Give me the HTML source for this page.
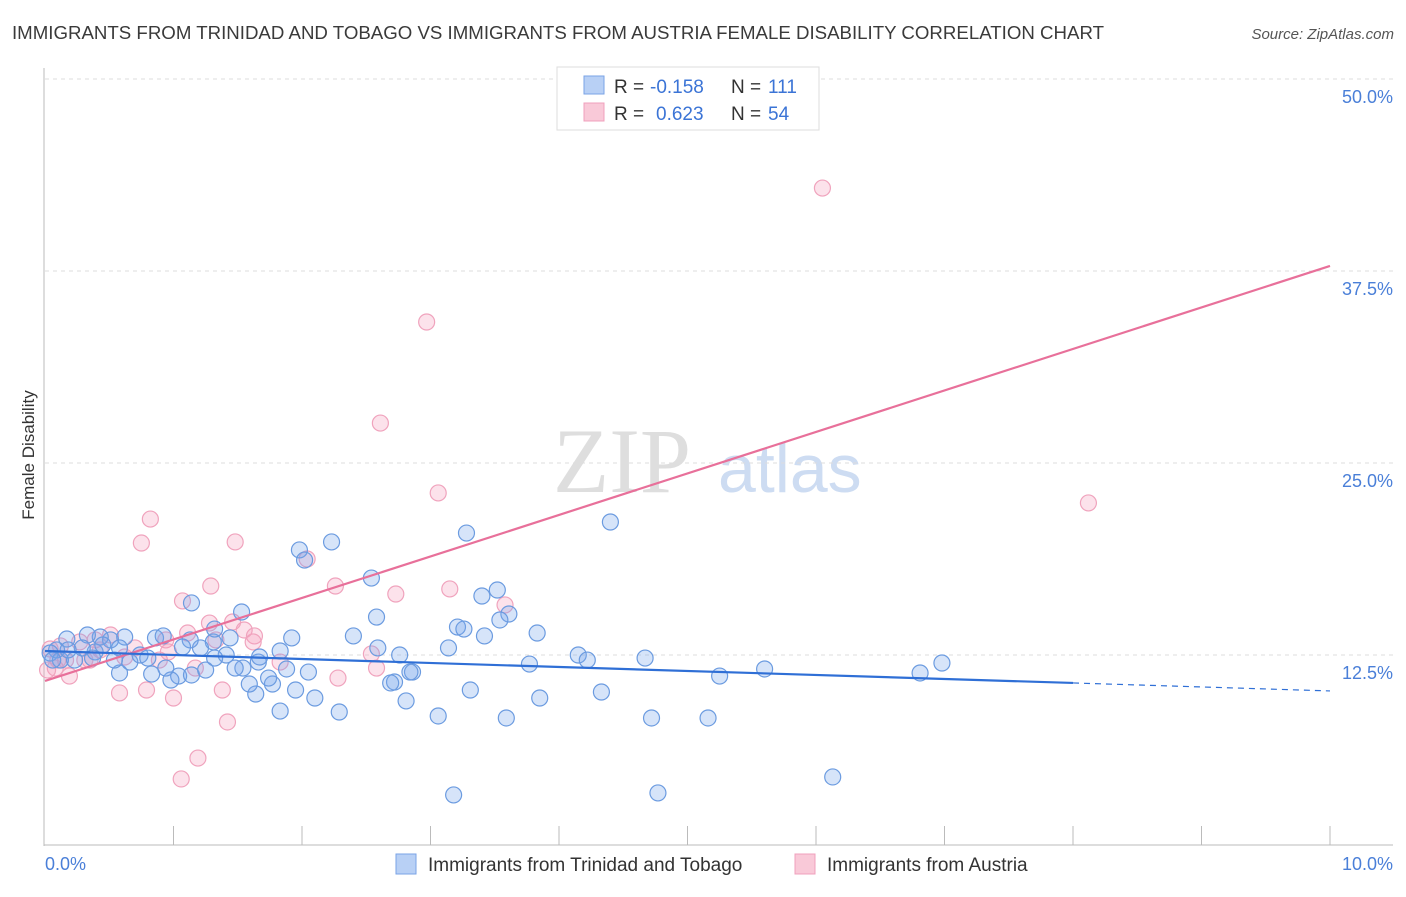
<!DOCTYPE html>
<html><head><meta charset="utf-8"><style>
body{margin:0;background:#fff;font-family:"Liberation Sans",sans-serif;}
svg text{font-family:"Liberation Sans",sans-serif;}
</style></head><body>
<svg id="chart" width="1406" height="892" viewBox="0 0 1406 892" xmlns="http://www.w3.org/2000/svg">
<text x="12" y="39" font-size="18" fill="#3a3a3a" textLength="1092" lengthAdjust="spacingAndGlyphs">IMMIGRANTS FROM TRINIDAD AND TOBAGO VS IMMIGRANTS FROM AUSTRIA FEMALE DISABILITY CORRELATION CHART</text>
<text x="1394" y="39" font-size="15" fill="#555" font-style="italic" text-anchor="end">Source: ZipAtlas.com</text>
<g>
<text x="553" y="492" font-size="92" fill="#dedede" font-family="Liberation Serif,serif" style="font-family:'Liberation Serif',serif">ZIP</text>
<text x="718" y="492" font-size="68" fill="#cddcf2">atlas</text>
</g>
<g id="grid"></g>
<g id="axes"></g>
<g id="pts"></g>
<g id="lines"></g>
<text transform="translate(34,455) rotate(-90)" font-size="17" fill="#333" text-anchor="middle">Female Disability</text>
<g>
<rect x="557" y="67" width="262" height="63" fill="#fff" stroke="#ddd"/>
<rect x="584" y="76" width="20" height="18" fill="#b8d0f5" stroke="#7aa3e6"/>
<rect x="584" y="103" width="20" height="18" fill="#f9c9d8" stroke="#f0a0bc"/>
<text x="614" y="93" font-size="19" fill="#333">R =</text>
<text x="650" y="93" font-size="19" fill="#3b74d6">-0.158</text>
<text x="731" y="93" font-size="19" fill="#333">N =</text>
<text x="768" y="93" font-size="19" fill="#3b74d6">111</text>
<text x="614" y="120" font-size="19" fill="#333">R =</text>
<text x="656" y="120" font-size="19" fill="#3b74d6">0.623</text>
<text x="731" y="120" font-size="19" fill="#333">N =</text>
<text x="768" y="120" font-size="19" fill="#3b74d6">54</text>
</g>
<g>
<rect x="396" y="854" width="20" height="20" fill="#b8d0f5" stroke="#7aa3e6"/>
<text x="428" y="871" font-size="19" fill="#333">Immigrants from Trinidad and Tobago</text>
<rect x="795" y="854" width="20" height="20" fill="#f9c9d8" stroke="#f0a0bc"/>
<text x="827" y="871" font-size="19" fill="#333">Immigrants from Austria</text>
</g>
</svg>
<script>
const yTicks=[12.5,25,37.5,50];
const yTickLabels=["12.5%","25.0%","37.5%","50.0%"];
const xTickLabels=["0.0%","10.0%"];
const blueX=[2.23,1.98,2.02,3.28,4.40,2.54,3.52,3.40,1.14,1.53,2.58,3.61,3.54,3.21,3.26,3.42,3.83,2.40,1.92,2.59,2.76,3.14,4.15,4.22,4.67,3.77,6.98,5.60,6.81,5.25,2.86,2.84,2.72,2.69,3.31,4.33,3.85,2.81,3.06,3.59,4.72,5.16,2.29,1.83,2.10,1.95,1.64,1.77,1.59,1.74,2.05,1.88,1.54,1.66,1.48,1.41,1.32,1.83,1.67,1.44,1.31,1.21,1.32,1.13,1.07,1.04,0.98,1.14,1.25,0.94,0.83,0.58,0.66,0.86,0.92,0.62,0.51,0.43,0.33,0.17,0.09,0.04,0.12,0.23,0.39,0.45,0.54,0.74,0.80,0.58,0.29,0.18,0.37,0.06,6.13,4.77,3.18];
const blueY=[19.86,19.34,18.68,20.44,21.16,17.51,16.73,16.34,15.89,15.30,14.97,15.17,14.78,14.32,14.19,13.74,13.93,13.74,13.61,12.96,12.50,12.96,12.50,12.17,12.30,11.91,11.98,11.59,11.33,11.13,11.39,11.39,10.74,10.68,10.22,10.09,9.70,9.51,8.53,8.40,8.40,8.40,8.79,8.85,9.70,10.22,9.96,10.61,10.61,11.00,11.39,11.59,11.65,12.04,11.65,12.50,12.30,12.76,12.37,13.61,13.35,12.96,14.19,13.48,13.02,11.13,10.87,11.20,11.52,11.65,11.26,11.33,12.04,13.61,13.74,13.67,13.48,13.67,13.80,13.54,12.83,12.63,12.17,12.17,12.70,13.15,12.17,12.50,12.30,12.96,12.96,12.83,12.30,12.17,4.56,3.52,3.39];
const pinkX=[6.05,2.97,2.61,3.06,8.12,0.82,0.75,1.48,2.04,1.29,2.26,3.15,2.73,1.07,3.58,1.28,1.11,1.55,1.63,1.46,1.33,1.62,0.94,0.51,0.62,0.70,0.43,0.27,0.12,0.04,0.08,0.19,0.16,0.35,0.89,1.17,1.38,1.83,2.28,2.58,2.54,0.58,0.79,1.00,1.42,1.06,1.19,0.31,0.10,0.39,0.96,0.02];
const pinkY=[42.90,34.18,27.60,23.05,22.40,21.35,19.79,19.86,18.75,16.99,16.99,16.80,16.47,16.02,15.76,14.58,13.93,14.13,13.74,14.65,13.48,13.35,13.48,13.80,12.37,12.96,12.83,13.35,13.09,12.89,11.65,11.13,12.17,12.17,12.17,11.65,10.22,12.04,11.00,11.65,12.57,10.03,10.22,9.70,8.14,4.43,5.79,12.17,12.17,13.48,12.70,11.52];
const blueTrend=[12.76,10.68,10.16];
const pinkTrend=[10.81,37.83];
const sx=v=>45+v*128.5;
const sy=v=>847-v*15.36;
const NS="http://www.w3.org/2000/svg";
function mk(tag,attrs,parent){const e=document.createElementNS(NS,tag);for(const k in attrs)e.setAttribute(k,attrs[k]);parent.appendChild(e);return e;}
const grid=document.getElementById('grid'),axes=document.getElementById('axes'),pts=document.getElementById('pts'),lines=document.getElementById('lines');
yTicks.forEach((t,i)=>{
 const l=mk('line',{x1:45,x2:1393,y1:sy(t),y2:sy(t),stroke:'#ddd','stroke-dasharray':'4,4'},grid);
 
 
 const tx=mk('text',{x:1393,y:sy(t)+24,'font-size':18,fill:'#4a7fd8','text-anchor':'end'},axes);
 tx.textContent=yTickLabels[i];
 
 
});
mk('line',{x1:44,x2:44,y1:68,y2:846,stroke:'#bbb'},axes);
mk('line',{x1:44,x2:1393,y1:845,y2:845,stroke:'#bbb'},axes);
for(let i=1;i<=10;i++){const t=mk('line',{x1:sx(i),x2:sx(i),y1:826,y2:845,stroke:'#bbb'},axes);
 
 }
[[45,'start'],[1393,'end']].forEach((p,i)=>{const t=mk('text',{x:p[0],y:870,'font-size':18,fill:'#4a7fd8','text-anchor':p[1]},axes);t.textContent=xTickLabels[i];
 
 });
pinkX.forEach((x,i)=>{const c=mk('circle',{cx:sx(x),cy:sy(pinkY[i]),r:8,fill:'rgba(244,160,188,0.3)',stroke:'#f0a3bd','stroke-width':1.2},pts);
 
 });
blueX.forEach((x,i)=>{const c=mk('circle',{cx:sx(x),cy:sy(blueY[i]),r:8,fill:'rgba(120,165,235,0.3)',stroke:'#6b9be0','stroke-width':1.2},pts);
 
 });
const pl=mk('line',{x1:sx(0),y1:sy(pinkTrend[0]),x2:sx(10),y2:sy(pinkTrend[1]),stroke:'#e8709a','stroke-width':2.2},lines);


const bl=mk('line',{x1:sx(0),y1:sy(blueTrend[0]),x2:sx(8),y2:sy(blueTrend[1]),stroke:'#2f6fd6','stroke-width':2.2},lines);


const bd=mk('line',{x1:sx(8),y1:sy(blueTrend[1]),x2:sx(10),y2:sy(blueTrend[2]),stroke:'#2f6fd6','stroke-width':1.2,'stroke-dasharray':'6,5'},lines);


</script>
</body></html>
